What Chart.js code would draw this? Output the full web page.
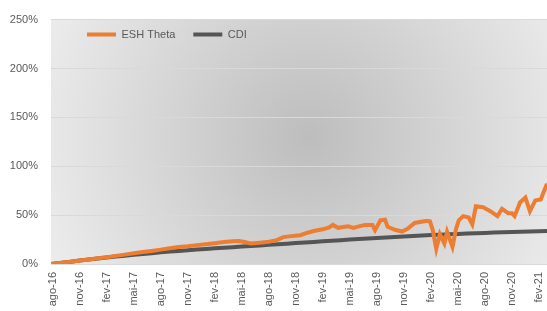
<!DOCTYPE html>
<html>
<head>
<meta charset="utf-8">
<script src="https://cdn.jsdelivr.net/npm/chart.js@4/dist/chart.umd.min.js"></script>
<style>
  html, body { margin: 0; padding: 0; background: #fff; }
  #wrap { width: 547px; height: 311px; position: relative; }
</style>
</head>
<body>
<div id="wrap"><canvas id="chart"></canvas></div>
<script>
// x values are months counted from ago-16 (0 = ago-16)
const tickMonths = [0, 3, 6, 9, 12, 15, 18, 21, 24, 27, 30, 33, 36, 39, 42, 45, 48, 51, 54];
const tickLabels = ["ago-16", "nov-16", "fev-17", "mai-17", "ago-17", "nov-17", "fev-18", "mai-18", "ago-18",
  "nov-18", "fev-19", "mai-19", "ago-19", "nov-19", "fev-20", "mai-20", "ago-20", "nov-20", "fev-21"];

const eshMonths = [-0.2, 1, 2, 3, 4, 5, 6, 7, 8, 9, 10, 11, 12, 13, 14,
  15, 16, 17, 18, 19, 20, 20.7, 21.3, 22, 23, 24, 24.9, 25.6, 26.5, 27.5,
  28.3, 29.1, 30, 30.7, 31.1, 31.7, 32.8, 33.4, 34, 34.7, 35.5, 35.8, 36.4, 36.9, 37.2, 38, 38.8, 39.4, 40.2, 41.4,
  41.7, 41.9, 42.2, 42.6, 43, 43.5, 43.8, 44.4, 44.8, 45.1, 45.6, 46.2, 46.6, 47, 47.8, 48.6, 49.4, 49.9,
  50.6, 51, 51.3, 51.7, 51.9, 52.5, 53, 53.6, 54.2, 54.9];
const eshValues = [0, 1.3, 2.4, 3.5, 4.7, 5.8, 7.0, 8.3, 9.6, 10.9, 12.2, 13.4, 14.7, 16.2, 17.5,
  18.2, 19.3, 20.2, 21.2, 22.4, 23.3, 23.6, 22.5, 21.0, 21.8, 22.8, 24.4, 27.5, 28.5, 29.5,
  32, 34, 35.5, 37.5, 40, 37, 38.6, 37, 38.5, 40, 40, 34.5, 44.7, 45.4, 38, 35, 33.2, 36, 42, 44,
  44, 43.5, 35, 15.5, 30.5, 21, 33, 17.6, 36, 44.7, 49, 47.5, 40.5, 59, 58, 54, 49, 56.5,
  52, 52, 49, 58, 63, 68, 54, 65, 66, 82];

const cdiMonths = [-0.2, 0, 1, 2, 3, 4, 5, 6, 7, 8, 9, 10, 11, 12, 13, 14, 15, 16, 17, 18, 19, 20,
  21, 22, 23, 24, 25, 26, 27, 28, 29, 30, 31, 32, 33, 34, 35, 36, 37, 38, 39, 40,
  41, 42, 43, 44, 45, 46, 47, 48, 49, 50, 51, 52, 53, 54, 54.9];
const cdiValues = [0, 0.2, 1.3, 2.4, 3.5, 4.5, 5.6, 6.6, 7.6, 8.5, 9.4, 10.3, 11.1, 11.9, 12.7, 13.4, 14.1, 14.8, 15.4, 16.0, 16.6, 17.2,
  17.8, 18.4, 19.0, 19.6, 20.2, 20.8, 21.4, 22.0, 22.6, 23.2, 23.8, 24.4, 25.0, 25.6, 26.1, 26.6, 27.1, 27.6, 28.1, 28.6,
  29.1, 29.6, 30.0, 30.4, 30.8, 31.2, 31.5, 31.8, 32.1, 32.4, 32.7, 33.0, 33.3, 33.6, 33.8];

const ORANGE = "#ED7D31";
const GREY = "#555555";

Chart.defaults.font.family = "'Liberation Sans', Arial, sans-serif";
Chart.defaults.font.size = 11;
Chart.defaults.color = "#595959";

// grey radial fill behind the plot area
const plotBackground = {
  id: "plotBackground",
  beforeDraw(chart) {
    const { ctx, chartArea: a } = chart;
    const cx = a.left + a.width * 0.52;
    const cy = a.top + a.height * 0.48;
    const g = ctx.createRadialGradient(cx, cy, 0, cx, cy, 290);
    g.addColorStop(0, "#bdbdbd");
    g.addColorStop(1, "#ededed");
    ctx.save();
    ctx.fillStyle = g;
    ctx.fillRect(a.left, a.top, a.width, a.height);
    ctx.restore();
  },
};

// legend sits inside the plot area, like the excel one
const legendInPlot = {
  id: "legendInPlot",
  beforeInit(chart) {
    const fit = chart.legend.fit;
    chart.legend.fit = function () {
      fit.call(this);
      this.height = 0;
    };
  },
  afterLayout(chart) {
    const lg = chart.legend;
    lg.left = chart.chartArea.left + 18;
    lg.right = chart.chartArea.right;
    lg.top = 11;
    lg.bottom = 51;
  },
};

new Chart(document.getElementById("chart"), {
  type: "line",
  data: {
    datasets: [
      {
        label: "ESH Theta",
        data: eshMonths.map((m, i) => ({ x: m, y: eshValues[i] })),
        borderColor: ORANGE,
        backgroundColor: ORANGE,
        borderWidth: 4,
        pointRadius: 0,
        tension: 0,
      },
      {
        label: "CDI",
        data: cdiMonths.map((m, i) => ({ x: m, y: cdiValues[i] })),
        borderColor: GREY,
        backgroundColor: GREY,
        borderWidth: 4,
        pointRadius: 0,
        tension: 0,
      },
    ],
  },
  options: {
    responsive: true,
    maintainAspectRatio: false,
    animation: false,
    layout: { padding: { left: 10, top: 19, right: 0, bottom: 5 } },
    plugins: {
      tooltip: { enabled: false },
      legend: {
        position: "top",
        align: "start",
        fullSize: false,
        labels: {
          boxWidth: 29,
          boxHeight: 4,
          padding: 18,
          color: "#595959",
          generateLabels: (chart) =>
            Chart.defaults.plugins.legend.labels.generateLabels(chart).map((item) => ({ ...item, lineWidth: 0 })),
        },
      },
    },
    scales: {
      x: {
        type: "linear",
        min: -0.2,
        max: 54.9,
        afterBuildTicks: (axis) => {
          axis.ticks = tickMonths.map((v) => ({ value: v }));
        },
        afterFit: (axis) => {
          axis.height = 42;
          axis.paddingLeft = 0;
          axis.paddingRight = 0;
        },
        ticks: {
          autoSkip: false,
          minRotation: 90,
          maxRotation: 90,
          padding: 8,
          callback: (v) => tickLabels[tickMonths.indexOf(v)],
        },
        grid: { display: false, drawTicks: false },
        border: { display: false },
      },
      y: {
        min: 0,
        max: 250,
        afterFit: (axis) => {
          axis.width = 41;
        },
        ticks: { stepSize: 50, padding: 13, callback: (v) => v + "%" },
        grid: { color: "#d9d9d9", drawTicks: false },
        border: { display: false },
      },
    },
  },
  plugins: [plotBackground, legendInPlot],
});
</script>
</body>
</html>
